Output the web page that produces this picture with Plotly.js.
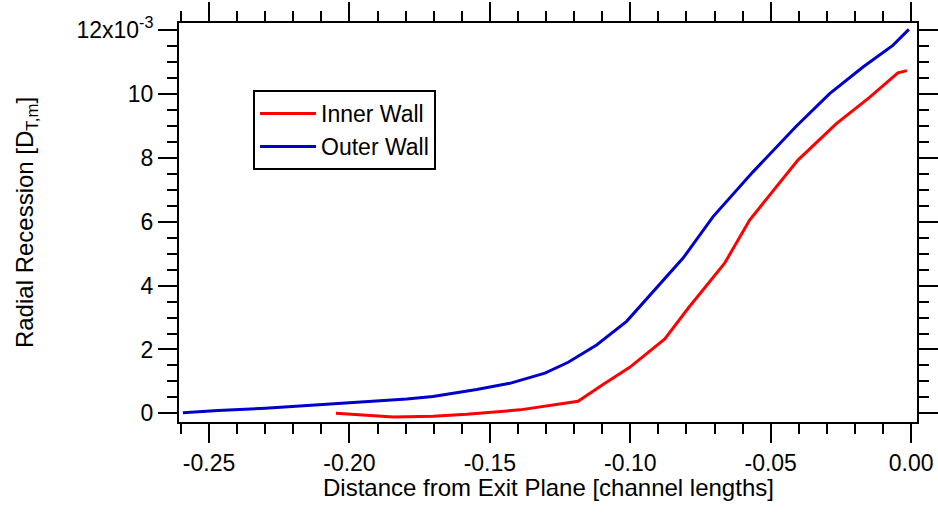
<!DOCTYPE html>
<html>
<head>
<meta charset="utf-8">
<script src="https://cdn.plot.ly/plotly-3.0.1.min.js"></script>
<style>
  html, body { margin: 0; padding: 0; background: #ffffff; }
  #chart { width: 938px; height: 513px; }
</style>
</head>
<body>
<div id="chart"></div>
<script>
// Radial wall recession along the channel, in units of 1e-3 D_T,m
const innerX = [-0.2048, -0.1844, -0.1702, -0.1583, -0.1393, -0.1275, -0.1186, -0.1097,
                -0.1002, -0.0877, -0.0794, -0.0664, -0.0575, -0.0403, -0.0266, -0.0148,
                -0.0047, -0.0015];
const innerY = [0.00, -0.11, -0.09, -0.03, 0.11, 0.27, 0.38, 0.90,
                1.44, 2.33, 3.29, 4.70, 6.05, 7.93, 9.07, 9.89,
                10.66, 10.73];

const outerX = [-0.2593, -0.2468, -0.2300, -0.2105, -0.1950, -0.1796, -0.1703, -0.1620,
                -0.1547, -0.1429, -0.1304, -0.1221, -0.1120, -0.1013, -0.0895, -0.0812,
                -0.0705, -0.0563, -0.0409, -0.0290, -0.0170, -0.0065, -0.0008];
const outerY = [0.02, 0.09, 0.16, 0.27, 0.35, 0.45, 0.53, 0.64,
                0.75, 0.94, 1.26, 1.60, 2.14, 2.88, 4.04, 4.86,
                6.16, 7.56, 8.99, 10.01, 10.85, 11.52, 12.02];

const xTickVals = [-0.25, -0.20, -0.15, -0.10, -0.05, 0.00];
const xTickText = ['-0.25', '-0.20', '-0.15', '-0.10', '-0.05', '0.00'];
const yTickVals = [0, 2, 4, 6, 8, 10, 12];
const yTickText = ['0', '2', '4', '6', '8', '10', '12x10<sup>-3</sup>'];

const xTitle = 'Distance from Exit Plane [channel lengths]';
const yTitle = 'Radial Recession [D<sub>T,m</sub>]';

const FONT = '"Liberation Sans", Arial, Helvetica, sans-serif';

const traces = [
  {
    x: innerX, y: innerY, name: 'Inner Wall', type: 'scatter', mode: 'lines',
    line: { color: '#ff0000', width: 3 }
  },
  {
    x: outerX, y: outerY, name: 'Outer Wall', type: 'scatter', mode: 'lines',
    line: { color: '#0000cc', width: 3 }
  }
];

const axisCommon = {
  showline: true, linecolor: '#000', linewidth: 2,
  mirror: 'allticks', ticks: 'outside', ticklen: 19, tickwidth: 2, tickcolor: '#000',
  showgrid: false, zeroline: false, automargin: false,
  tickfont: { family: FONT, size: 23, color: '#000' }
};

const layout = {
  width: 938, height: 513,
  margin: { l: 179, r: 21, t: 23, b: 91 },
  paper_bgcolor: '#fff', plot_bgcolor: '#fff',
  font: { family: FONT, color: '#000' },
  showlegend: true,
  legend: {
    x: 0.1003, y: 0.832, xanchor: 'left', yanchor: 'top',
    bgcolor: '#fff', bordercolor: '#000', borderwidth: 2,
    itemwidth: 56,
    font: { family: FONT, size: 23, color: '#000' }
  },
  xaxis: Object.assign({}, axisCommon, {
    range: [-0.2607, 0.0021],
    tickmode: 'array', tickvals: xTickVals, ticktext: xTickText,
    minor: { dtick: 0.01, tick0: 0, ticks: 'outside', ticklen: 10, tickwidth: 2, tickcolor: '#000', showgrid: false }
  }),
  yaxis: Object.assign({}, axisCommon, {
    range: [-0.27, 12.22],
    tickmode: 'array', tickvals: yTickVals, ticktext: yTickText,
    minor: { dtick: 0.5, tick0: 0, ticks: 'outside', ticklen: 10, tickwidth: 2, tickcolor: '#000', showgrid: false },
    title: { text: yTitle, standoff: 36, font: { family: FONT, size: 24, color: '#000' } }
  }),
  // x-axis title sits tight under the tick labels
  annotations: [
    {
      text: xTitle, xref: 'paper', yref: 'paper', x: 0.5, y: -0.163,
      xanchor: 'center', yanchor: 'middle', showarrow: false,
      font: { family: FONT, size: 24, color: '#000' }
    }
  ]
};

Plotly.newPlot('chart', traces, layout, { displayModeBar: false, staticPlot: true });
</script>
</body>
</html>
